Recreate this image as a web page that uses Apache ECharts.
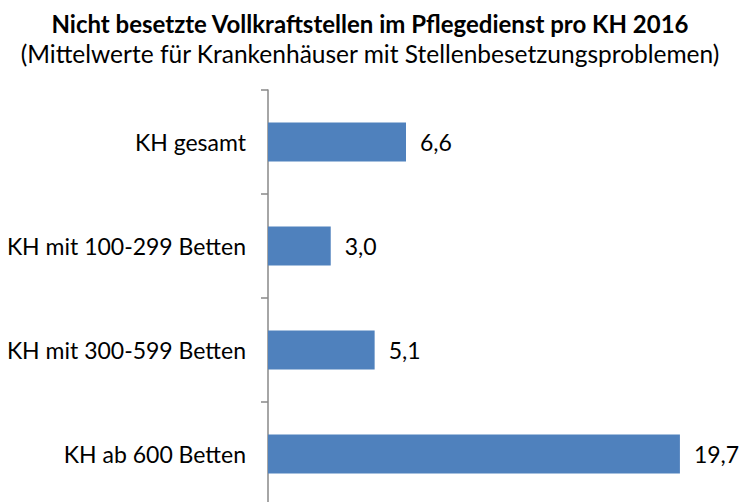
<!DOCTYPE html>
<html>
<head>
<meta charset="utf-8">
<script src="https://cdn.jsdelivr.net/npm/echarts@6/dist/echarts.min.js"></script>
<style>
  html, body { margin: 0; padding: 0; background: #fff; }
  #chart { width: 740px; height: 502px; }
</style>
</head>
<body>
<div id="chart"></div>
<script>
var categories = ['KH gesamt', 'KH mit 100-299 Betten', 'KH mit 300-599 Betten', 'KH ab 600 Betten'];
var values = [6.6, 3.0, 5.1, 19.7];

var font = 'Lato';
var chart = echarts.init(document.getElementById('chart'), null, { renderer: 'svg' });
chart.setOption({
  animation: false,
  title: {
    text: 'Nicht besetzte Vollkraftstellen im Pflegedienst pro KH 2016',
    subtext: '(Mittelwerte für Krankenhäuser mit Stellenbesetzungsproblemen)',
    left: 'center',
    top: 8,
    padding: 0,
    itemGap: 0,
    textStyle: { fontFamily: font, fontSize: 24, lineHeight: 30, fontWeight: 'bold', color: '#000' },
    subtextStyle: { fontFamily: font, fontSize: 24.5, lineHeight: 30, color: '#000' }
  },
  grid: { left: 268, top: 90, width: 460, height: 416, containLabel: false, outerBoundsMode: 'none' },
  xAxis: {
    type: 'value',
    min: 0,
    max: 22,
    show: false
  },
  yAxis: {
    type: 'category',
    inverse: true,
    data: categories,
    axisLine: { lineStyle: { color: '#888', width: 1.5 } },
    axisTick: { show: true, length: 7, lineStyle: { color: '#888', width: 1.5 } },
    axisLabel: { color: '#000', fontFamily: font, fontSize: 23, margin: 22 }
  },
  series: [{
    type: 'bar',
    data: values,
    barWidth: 39,
    itemStyle: { color: '#4F81BD' },
    label: {
      show: true,
      position: 'right',
      distance: 14,
      color: '#000',
      fontFamily: font,
      fontSize: 23,
      formatter: function (p) { return p.value.toFixed(1).replace('.', ','); }
    }
  }]
});
</script>
</body>
</html>
